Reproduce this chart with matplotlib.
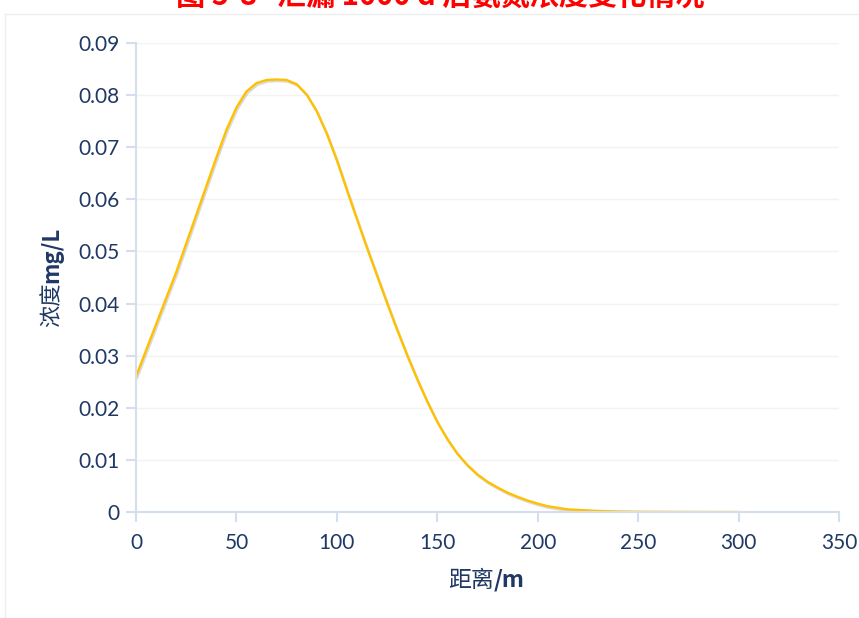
import matplotlib
matplotlib.use('Agg')
import matplotlib.pyplot as plt
import matplotlib.patheffects as pe
from matplotlib.lines import Line2D

# distance (m) and concentration (mg/L)
distance = [0, 5, 10, 15, 20, 25, 30, 35, 40, 45, 50, 55, 60, 65, 70, 75, 80, 85, 90, 95,
            100, 105, 110, 115, 120, 125, 130, 135, 140, 145, 150, 155, 160, 165, 170, 175,
            180, 185, 190, 195, 200, 205, 210, 215, 220, 225, 230, 240, 250, 260, 270, 280, 290, 300]
conc = [0.0260, 0.0310, 0.0360, 0.0410, 0.0460, 0.0515, 0.0570, 0.0625, 0.0680, 0.0733,
        0.0776, 0.0807, 0.0823, 0.0829, 0.0830, 0.0829, 0.0821, 0.0801, 0.0769, 0.0726,
        0.0675, 0.0618, 0.0562, 0.0507, 0.0454, 0.0401, 0.0350, 0.0301, 0.0255, 0.0212,
        0.0173, 0.0140, 0.0112, 0.0090, 0.0072, 0.0058, 0.0047, 0.0037, 0.0029, 0.0022,
        0.0016, 0.0011, 0.0008, 0.0005, 0.0004, 0.0003, 0.0002, 0.0001, 0.00005, 0.00003,
        0.00002, 0.00001, 0.0, 0.0]

xticks = [0, 50, 100, 150, 200, 250, 300, 350]
yticks = [0, 0.01, 0.02, 0.03, 0.04, 0.05, 0.06, 0.07, 0.08, 0.09]
ytick_labels = ['0', '0.01', '0.02', '0.03', '0.04', '0.05', '0.06', '0.07', '0.08', '0.09']

title = '图 5-8   泄漏 1000 d 后氨氮浓度变化情况'

navy = '#1f3864'
spine_c = '#d3dfee'
cjk = ['Noto Sans CJK SC', 'DejaVu Sans']

fig = plt.figure(figsize=(8.59, 6.18), dpi=100)
ax = fig.add_axes([136/859, 1-512/618, (839-136)/859, (512-43)/618])

ax.plot(distance, conc, color='#ffc000', lw=1.7, solid_joinstyle='round',
        path_effects=[pe.SimpleLineShadow(offset=(0.8, -1.2), shadow_color='#999999', alpha=0.35),
                      pe.Normal()])

ax.set_xlim(0, 350)
ax.set_ylim(0, 0.09)
ax.set_xticks(xticks)
ax.set_yticks(yticks)
ax.set_yticklabels(ytick_labels)

for s in ['top', 'right']:
    ax.spines[s].set_visible(False)
for s in ['left', 'bottom']:
    ax.spines[s].set_color(spine_c)
    ax.spines[s].set_linewidth(1.5)

ax.grid(axis='y', color='#f3f3f3', lw=1)
ax.set_axisbelow(True)
ax.tick_params(axis='both', colors=spine_c, length=7, width=1.5, labelcolor=navy, labelsize=15)
ax.tick_params(axis='y', pad=5)
ax.tick_params(axis='x', pad=8)
for lab in ax.get_xticklabels() + ax.get_yticklabels():
    lab.set_family(['Lato', 'DejaVu Sans'])

# axis titles: CJK part normal, unit part bold
fig.text(52/859, 1-283/618, '浓度', rotation=90, rotation_mode='anchor', ha='right', va='center',
         fontsize=16, color=navy, family=cjk)
fig.text(52/859, 1-283/618, 'mg/L', rotation=90, rotation_mode='anchor', ha='left', va='center',
         fontsize=16, color=navy, family=cjk, fontweight='bold')
fig.text(494/859, 1-580/618, '距离', ha='right', va='center', fontsize=16.5, color=navy, family=cjk)
fig.text(494/859, 1-580/618, '/m', ha='left', va='center', fontsize=16.5, color=navy, family=cjk,
         fontweight='bold')

# title, cut off by the top edge
fig.text(440/859, 1+4/618, title, ha='center', va='center', fontsize=21, color='#ff0000',
         family=cjk, fontweight='bold')

# faint frame of the chart area
fig.add_artist(Line2D([5/859, 5/859], [0, 1-14/618], transform=fig.transFigure, color='#eeeeee', lw=1))
fig.add_artist(Line2D([5/859, 1], [1-14/618, 1-14/618], transform=fig.transFigure, color='#eeeeee', lw=1))

fig.savefig('out.png', dpi=100)
